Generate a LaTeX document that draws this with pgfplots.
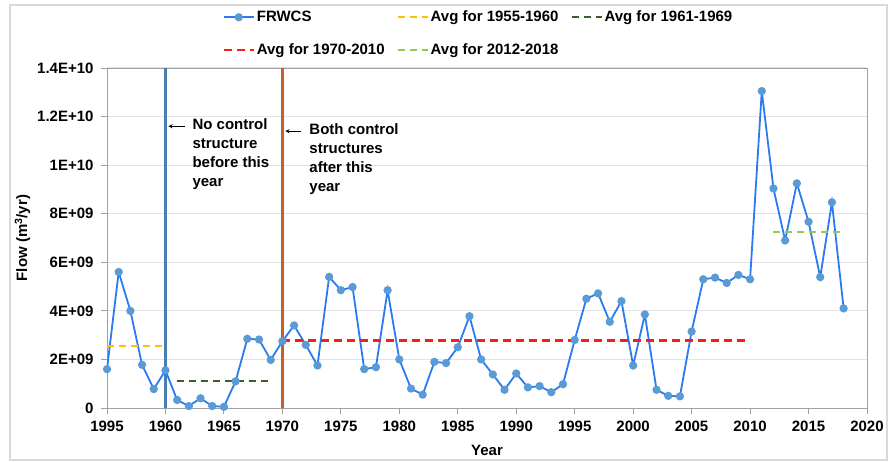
\documentclass[border=0pt]{standalone}
\usepackage{fontspec}
\setmainfont{Liberation Sans}
\usepackage{pgfplots}
\pgfplotsset{compat=1.18}
\definecolor{lineblue}{HTML}{2A7BF0}
\definecolor{markblue}{HTML}{5B9BD5}
\definecolor{avgyellow}{HTML}{FFC000}
\definecolor{avgdkgreen}{HTML}{3F5F2A}
\definecolor{avgred}{HTML}{FF1A1A}
\definecolor{avgltgreen}{HTML}{8CCB54}
\definecolor{vblue}{HTML}{4A7EB0}
\definecolor{vbrown}{HTML}{C0622A}
\begin{document}
\begin{tikzpicture}[font=\fontsize{15bp}{19bp}\selectfont\bfseries]
\begin{axis}[name=ax, scale only axis, width=760bp, height=340bp,
  xmin=1955, xmax=2020, ymin=0, ymax=1.4e10,
  xtick={1955,1960,1965,1970,1975,1980,1985,1990,1995,2000,2005,2010,2015,2020},
  xticklabels={1995,1960,1965,1970,1975,1980,1985,1990,1995,2000,2005,2010,2015,2020},
  ytick={0,2e9,4e9,6e9,8e9,1e10,1.2e10,1.4e10},
  yticklabels={0,2E+09,4E+09,6E+09,8E+09,1E+10,1.2E+10,1.4E+10},
  scaled y ticks=false,
  ymajorgrids, grid style={gray!22, line width=1bp},
  axis line style={gray!75, line width=0.9bp},
  tick style={gray!75, line width=0.9bp},
  tick align=outside, xtick pos=bottom, ytick pos=left, major tick length=6bp,
  xticklabel style={yshift=-4bp},
  yticklabel style={xshift=-4bp},
  xlabel={Year}, ylabel={Flow (m\textsuperscript{3}/yr)},
  xlabel style={yshift=-6bp},
  ylabel style={yshift=0bp},
  legend columns=3,
  legend cell align=left,
  legend style={draw=none, fill=none, at={(0.148,1.0)}, anchor=south west, yshift=8bp,
    /tikz/every even column/.append style={column sep=10bp}, row sep=16bp,
    font=\fontsize{15bp}{18bp}\selectfont\bfseries},
  legend image code/.code={\draw[mark repeat=2,mark phase=2,#1] plot coordinates {(0bp,0bp)(15bp,0bp)(30bp,0bp)};},
]
\addplot[vblue, line width=2.3bp, forget plot] coordinates {(1960,0)(1960,1.4e10)};
\addplot[vbrown, line width=2.3bp, forget plot] coordinates {(1970,0)(1970,1.4e10)};
\addplot[lineblue, line width=1.8bp, mark=*, mark size=3.2bp, mark options={fill=markblue, draw=markblue}] coordinates {
(1955,1.6e9)(1956,5.6e9)(1957,4.0e9)(1958,1.78e9)(1959,0.78e9)(1960,1.55e9)
(1961,0.33e9)(1962,0.08e9)(1963,0.4e9)(1964,0.08e9)(1965,0.05e9)(1966,1.1e9)
(1967,2.85e9)(1968,2.82e9)(1969,1.98e9)(1970,2.75e9)(1971,3.4e9)(1972,2.6e9)
(1973,1.75e9)(1974,5.4e9)(1975,4.85e9)(1976,4.98e9)(1977,1.6e9)(1978,1.68e9)
(1979,4.85e9)(1980,2.0e9)(1981,0.8e9)(1982,0.55e9)(1983,1.9e9)(1984,1.85e9)
(1985,2.5e9)(1986,3.78e9)(1987,2.0e9)(1988,1.38e9)(1989,0.75e9)(1990,1.42e9)
(1991,0.85e9)(1992,0.9e9)(1993,0.65e9)(1994,0.98e9)(1995,2.8e9)(1996,4.5e9)
(1997,4.72e9)(1998,3.55e9)(1999,4.4e9)(2000,1.75e9)(2001,3.85e9)(2002,0.75e9)
(2003,0.5e9)(2004,0.48e9)(2005,3.15e9)(2006,5.3e9)(2007,5.37e9)(2008,5.15e9)
(2009,5.48e9)(2010,5.3e9)(2011,13.05e9)(2012,9.04e9)(2013,6.9e9)(2014,9.25e9)
(2015,7.67e9)(2016,5.39e9)(2017,8.47e9)(2018,4.1e9)};
\addlegendentry{FRWCS}
\addplot[avgyellow, line width=1.6bp, dash pattern=on 7bp off 5bp] coordinates {(1955,2.55e9)(1960,2.55e9)};
\addlegendentry{Avg for 1955-1960}
\addplot[avgdkgreen, line width=2bp, dash pattern=on 7bp off 5bp] coordinates {(1961,1.1e9)(1969,1.1e9)};
\addlegendentry{Avg for 1961-1969}
\addplot[avgred, line width=2.2bp, dash pattern=on 8bp off 5bp] coordinates {(1970,2.78e9)(2010,2.78e9)};
\addlegendentry{Avg for 1970-2010}
\addplot[avgltgreen, line width=2bp, dash pattern=on 7bp off 5bp] coordinates {(2012,7.25e9)(2018,7.25e9)};
\addlegendentry{Avg for 2012-2018}
\draw[-stealth, line width=0.9bp] (axis cs:1961.7,11.6e9) -- (axis cs:1960.25,11.6e9);
\node[anchor=north west, align=left, inner sep=0pt] at (axis cs:1962.3,11.93e9) {No control\\structure\\before this\\year};
\draw[-stealth, line width=0.9bp] (axis cs:1971.6,11.4e9) -- (axis cs:1970.25,11.4e9);
\node[anchor=north west, align=left, inner sep=0pt] at (axis cs:1972.3,11.73e9) {Both control\\structures\\after this\\year};
\end{axis}
\draw[gray!30, line width=1.5bp] ([shift={(-97bp,-52bp)}]ax.south west) rectangle ([shift={(20bp,63bp)}]ax.north east);
\pgfresetboundingbox
\path ([shift={(-107bp,-54bp)}]ax.south west) rectangle ([shift={(29bp,68bp)}]ax.north east);
\end{tikzpicture}
\end{document}
